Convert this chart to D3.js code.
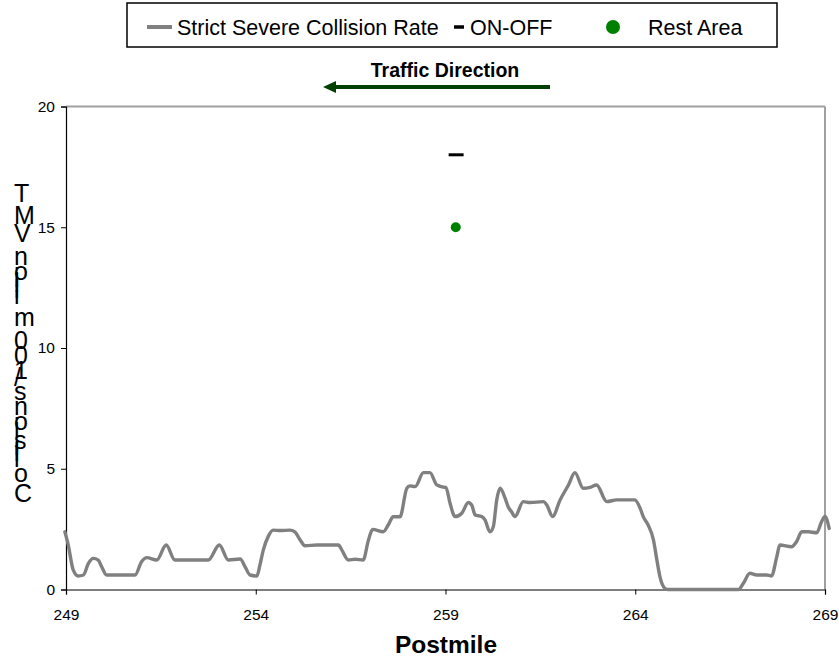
<!DOCTYPE html>
<html>
<head>
<meta charset="utf-8">
<script src="https://cdn.jsdelivr.net/npm/d3@7"></script>
<style>
  html, body { margin: 0; padding: 0; background: #fff; }
  svg { display: block; font-family: "Liberation Sans", Arial, sans-serif; }
</style>
</head>
<body>
<svg id="chart" width="839" height="659"></svg>
<script>
// ---- Data ----
const postmiles = [248.97,249.06,249.19,249.32,249.46,249.59,249.72,249.85,249.94,250.07,250.82,250.99,251.13,251.39,251.64,251.87,252.75,253.04,253.28,253.59,253.72,253.85,254.03,254.11,254.2,254.33,254.46,254.64,254.9,255.03,255.17,255.3,255.61,256.18,256.27,256.44,256.62,256.83,256.97,257.08,257.36,257.49,257.62,257.8,257.98,258.06,258.2,258.42,258.59,258.77,258.94,259.01,259.12,259.25,259.43,259.6,259.69,259.78,259.95,260.04,260.17,260.26,260.35,260.44,260.57,260.65,260.74,260.83,261.05,261.23,261.58,261.67,261.82,262.02,262.24,262.41,262.63,262.81,262.98,263.25,263.51,263.99,264.13,264.21,264.34,264.48,264.57,264.65,264.78,264.87,266.72,266.85,267.02,267.2,267.46,267.59,267.73,267.81,268.12,268.25,268.39,268.56,268.78,268.91,269.0,269.11];
const collisionRate = [2.39,1.84,0.81,0.56,0.6,1.08,1.29,1.22,0.94,0.6,0.6,1.15,1.32,1.22,1.84,1.22,1.22,1.84,1.22,1.26,0.94,0.6,0.56,1.01,1.64,2.2,2.46,2.44,2.46,2.39,2.05,1.81,1.84,1.84,1.63,1.22,1.25,1.22,2.05,2.49,2.39,2.67,3.01,3.01,4.19,4.29,4.26,4.84,4.84,4.33,4.24,4.23,3.57,3.02,3.16,3.6,3.5,3.09,3.02,2.88,2.39,2.6,3.71,4.19,3.78,3.43,3.22,3.02,3.64,3.6,3.64,3.5,3.02,3.71,4.33,4.84,4.19,4.23,4.33,3.64,3.71,3.71,3.36,3.02,2.67,2.05,1.22,0.53,0.05,0,0,0.26,0.67,0.6,0.6,0.56,1.36,1.84,1.77,1.98,2.39,2.39,2.35,2.81,3.02,2.53];
const onOffPoints = [[259.28, 18]];
const restAreaPoints = [[259.27, 15]];
const xTicks = [249, 254, 259, 264, 269];
const yTicks = [0, 5, 10, 15, 20];
const legendLabels = ["Strict Severe Collision Rate", "ON-OFF", "Rest Area"];
const yTitle = "Collisions/100 million VMT";
const xTitle = "Postmile";
const directionLabel = "Traffic Direction";

// ---- Layout ----
const svg = d3.select("#chart");
const pLeft = 66, pRight = 825, pTop = 106.5, pBottom = 589.5;
const x = d3.scaleLinear().domain([249, 269]).range([pLeft, pRight]);
const y = d3.scaleLinear().domain([0, 20]).range([pBottom, pTop]);

// plot frame (top and right in grey)
svg.append("line").attr("x1", pLeft).attr("x2", pRight).attr("y1", pTop).attr("y2", pTop)
  .attr("stroke", "#a0a0a0").attr("stroke-width", 2);
svg.append("line").attr("x1", pRight).attr("x2", pRight).attr("y1", pTop).attr("y2", pBottom)
  .attr("stroke", "#a0a0a0").attr("stroke-width", 2);

// axes
const xAxis = svg.append("g").attr("transform", `translate(0,${pBottom})`)
  .call(d3.axisBottom(x).tickValues(xTicks).tickFormat(d3.format("d")).tickSizeOuter(0).tickSize(5).tickPadding(14));
const yAxis = svg.append("g").attr("transform", `translate(${pLeft},0)`)
  .call(d3.axisLeft(y).tickValues(yTicks).tickFormat(d3.format("d")).tickSizeOuter(0).tickSize(5).tickPadding(6));
[xAxis, yAxis].forEach(g => {
  g.select(".domain").attr("stroke", "#000").attr("stroke-width", 1.2);
  g.selectAll(".tick line").attr("stroke", "#000");
  g.selectAll(".tick text").attr("font-size", 15.5).attr("fill", "#000")
    .attr("font-family", "'Liberation Sans', Arial, sans-serif");
});

// series line
const pts = postmiles.map((p, i) => [p, collisionRate[i]]);
const line = d3.line().x(d => x(d[0])).y(d => y(d[1])).curve(d3.curveMonotoneX);
svg.append("path").datum(pts).attr("d", line)
  .attr("fill", "none").attr("stroke", "#808080").attr("stroke-width", 3.4)
  .attr("stroke-linejoin", "round").attr("stroke-linecap", "round");

// ON-OFF markers
svg.selectAll(".onoff").data(onOffPoints).enter().append("line")
  .attr("x1", d => x(d[0]) - 7.5).attr("x2", d => x(d[0]) + 7.5)
  .attr("y1", d => y(d[1])).attr("y2", d => y(d[1]))
  .attr("stroke", "#000").attr("stroke-width", 3);

// Rest area markers
svg.selectAll(".rest").data(restAreaPoints).enter().append("circle")
  .attr("cx", d => x(d[0])).attr("cy", d => y(d[1])).attr("r", 5)
  .attr("fill", "#008000");

// traffic direction
svg.append("text").attr("x", 445).attr("y", 77).attr("text-anchor", "middle")
  .attr("font-weight", "bold").attr("font-size", 19.5).text(directionLabel);
svg.append("line").attr("x1", 550).attr("x2", 333).attr("y1", 87).attr("y2", 87)
  .attr("stroke", "#004000").attr("stroke-width", 4);
svg.append("path").attr("d", "M323,87 L336,81 L336,93 Z").attr("fill", "#004000");

// x title
svg.append("text").attr("x", 446).attr("y", 653).attr("text-anchor", "middle")
  .attr("font-weight", "bold").attr("font-size", 24.5).text(xTitle);

// y title: upright glyphs stacked bottom-to-top
const yFont = 25;
const spacingScale = 27 / 25;
const yTitleG = svg.append("g").attr("font-size", yFont);
const measure = yTitleG.append("text").attr("x", -100).attr("y", -100);
let cum = 0;
const baseC = 502;
for (const ch of yTitle) {
  let adv;
  if (ch === " ") adv = 0.278 * yFont;
  else { measure.text(ch); adv = measure.node().getComputedTextLength(); }
  if (ch !== " ") {
    yTitleG.append("text").attr("x", 14).attr("y", baseC - cum).text(ch);
  }
  cum += adv * spacingScale;
}
measure.remove();

// legend
const lg = svg.append("g");
lg.append("rect").attr("x", 127).attr("y", 3).attr("width", 650).attr("height", 44)
  .attr("fill", "#fff").attr("stroke", "#000").attr("stroke-width", 1.5);
lg.append("line").attr("x1", 147).attr("x2", 172).attr("y1", 27).attr("y2", 27)
  .attr("stroke", "#808080").attr("stroke-width", 4);
lg.append("text").attr("x", 177).attr("y", 35).attr("font-size", 21.5).text(legendLabels[0]);
lg.append("line").attr("x1", 454).attr("x2", 464).attr("y1", 27).attr("y2", 27)
  .attr("stroke", "#000").attr("stroke-width", 3.5);
lg.append("text").attr("x", 470).attr("y", 35).attr("font-size", 21.5).text(legendLabels[1]);
lg.append("circle").attr("cx", 613).attr("cy", 27).attr("r", 7).attr("fill", "#008000");
lg.append("text").attr("x", 648).attr("y", 35).attr("font-size", 21.5).text(legendLabels[2]);
</script>
</body>
</html>
